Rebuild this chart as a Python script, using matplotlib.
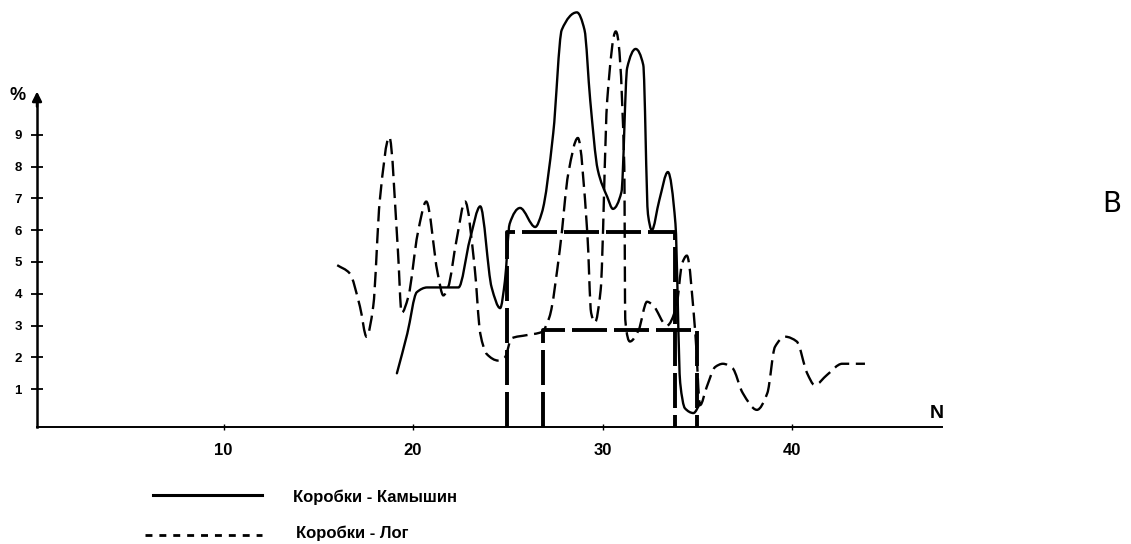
import matplotlib
matplotlib.use('Agg')
import matplotlib.pyplot as plt
import numpy as np
from matplotlib.path import Path
from matplotlib.patches import PathPatch
from matplotlib.lines import Line2D

plt.rcParams['font.family'] = ['Liberation Sans', 'DejaVu Sans']

# Коробки - Камышин (сплошная)
kam_n = [19.15, 19.7, 20.2, 20.75, 22.4, 23.0, 23.55, 24.15, 24.6, 24.85, 25.1,
         25.65, 26.45, 26.8, 27.4, 27.85, 28.65, 29.05, 29.35, 29.75, 30.25, 30.55,
         31.0, 31.3, 31.75, 32.15, 32.4, 32.6, 33.0, 33.45, 33.85, 34.1, 34.35,
         34.8, 35.15]
kam_v = [1.5, 2.75, 4.05, 4.2, 4.2, 5.7, 6.75, 4.2, 3.55, 4.4, 6.2,
         6.7, 6.1, 6.55, 9.05, 12.3, 12.85, 12.3, 10.1, 7.9, 7.05, 6.67,
         7.2, 11.1, 11.7, 11.2, 6.5, 6.0, 6.95, 7.83, 6.2, 1.2, 0.4,
         0.25, 0.55]

# Коробки - Лог (пунктир)
log_n = [16.0, 16.65, 17.2, 17.55, 17.9, 18.25, 18.75, 19.2, 19.4, 19.75, 20.25,
         20.7, 21.3, 21.6, 21.85, 22.3, 22.75, 23.25, 23.55, 23.9, 24.5,
         24.85, 25.2, 26.0, 26.8, 27.2, 27.75, 28.2, 28.7, 29.2, 29.4, 29.6,
         29.9, 30.25, 30.7, 31.15, 31.2, 31.45, 31.9, 32.35, 32.65, 33.4, 33.9,
         34.2, 34.45, 34.9, 35.15, 35.5, 35.95, 36.35, 36.85, 37.4, 38.15, 38.7,
         39.1, 39.65, 40.25, 40.8, 41.2, 41.85, 42.65, 43.2, 43.85]
log_v = [4.9, 4.65, 3.6, 2.65, 3.6, 6.95, 8.93, 5.4, 3.4, 3.9, 5.9,
         6.9, 4.65, 3.95, 4.2, 5.7, 6.9, 4.85, 2.75, 2.1, 1.9,
         2.0, 2.6, 2.7, 2.8, 3.27, 5.4, 7.8, 8.9, 5.9, 3.4, 3.1,
         4.1, 10.1, 12.25, 8.0, 3.2, 2.5, 2.85, 3.75, 3.65, 3.0, 3.6,
         4.95, 5.2, 2.75, 0.5, 1.07, 1.7, 1.8, 1.67, 0.88, 0.35, 0.88,
         2.33, 2.65, 2.5, 1.5, 1.13, 1.45, 1.8, 1.8, 1.8]

# ступенчатые (средние) линии
step_kam_n = [24.96, 24.96, 33.8, 33.8]
step_kam_v = [-0.2, 5.95, 5.95, -0.2]
step_log_n = [26.85, 26.85, 35.0, 35.0]
step_log_v = [-0.2, 2.85, 2.85, -0.2]

y_ticks = [1, 2, 3, 4, 5, 6, 7, 8, 9]
x_ticks = [10, 20, 30, 40]


def smooth(xs, ys):
    # гладкая монотонная (pchip) кривая через точки, как кубические Безье
    x = np.asarray(xs, float)
    y = np.asarray(ys, float)
    h = np.diff(x)
    d = np.diff(y) / h
    m = np.zeros_like(y)
    for k in range(1, len(x) - 1):
        if d[k - 1] * d[k] > 0:
            w1 = 2 * h[k] + h[k - 1]
            w2 = h[k] + 2 * h[k - 1]
            m[k] = (w1 + w2) / (w1 / d[k - 1] + w2 / d[k])
    m[0] = d[0]
    m[-1] = d[-1]
    verts = [(x[0], y[0])]
    codes = [Path.MOVETO]
    for i in range(len(x) - 1):
        verts += [(x[i] + h[i] / 3, y[i] + m[i] * h[i] / 3),
                  (x[i + 1] - h[i] / 3, y[i + 1] - m[i + 1] * h[i] / 3),
                  (x[i + 1], y[i + 1])]
        codes += [Path.CURVE4] * 3
    return Path(verts, codes)


fig = plt.figure(figsize=(11.31, 5.44), dpi=100)
ax = fig.add_axes([0, 0, 1, 1])
ax.set_xlim(-34 / 18.95, (1131 - 34) / 18.95)
ax.set_ylim((421 - 544) / 31.8, 421 / 31.8)

# оси
for s in ['top', 'right']:
    ax.spines[s].set_visible(False)
ax.spines['left'].set_position(('data', 0.16))
ax.spines['left'].set_bounds(-0.2, 10.0)
ax.spines['bottom'].set_position(('data', -0.2))
ax.spines['bottom'].set_bounds(0.16, 47.9)
ax.spines['left'].set_linewidth(1.8)
ax.spines['bottom'].set_linewidth(1.4)
ax.annotate('', xy=(0.16, 10.45), xytext=(0.16, 9.8),
            arrowprops=dict(arrowstyle='-|>', color='black', lw=1.8,
                            mutation_scale=14))

ax.set_yticks(y_ticks)
ax.set_yticklabels([str(t) for t in y_ticks], fontsize=9.5, fontweight='bold')
ax.tick_params(axis='y', direction='inout', length=8, width=1.3, pad=7)
ax.set_xticks(x_ticks)
ax.set_xticklabels([str(t) for t in x_ticks], fontsize=12, fontweight='bold')
ax.tick_params(axis='x', direction='inout', length=5, width=1.0, pad=9)

ax.text(-0.85, 10.25, '%', fontsize=13, fontweight='bold', ha='center', va='center')
ax.text(47.65, 0.25, 'N', fontsize=14, fontweight='bold', ha='center', va='center')
ax.text(56.9, 6.82, 'B', fontsize=20, family='DejaVu Sans', ha='center', va='center')

# кривые
ax.add_patch(PathPatch(smooth(kam_n, kam_v), fill=False, ec='black', lw=1.7,
                       capstyle='round', joinstyle='round'))
ax.add_patch(PathPatch(smooth(log_n, log_v), fill=False, ec='black', lw=1.7,
                       ls=(0, (6.5, 2.8))))

# ступеньки
ax.plot(step_kam_n, step_kam_v, color='black', lw=2.8, ls=(0, (9, 1.8)))
ax.plot(step_log_n, step_log_v, color='black', lw=2.8, ls=(0, (9, 1.8)))

# легенда
fig.add_artist(Line2D([153 / 1131, 262 / 1131], [1 - 495 / 544] * 2,
                      color='black', lw=2.2))
fig.add_artist(Line2D([145 / 1131, 262 / 1131], [1 - 535 / 544] * 2,
                      color='black', lw=2.0, ls=(0, (2.5, 2.5))))
fig.text(293 / 1131, 1 - 497 / 544, 'Коробки - Камышин', fontsize=12,
         fontweight='bold', va='center')
fig.text(296 / 1131, 1 - 533 / 544, 'Коробки - Лог', fontsize=12,
         fontweight='bold', va='center')

fig.savefig('out.png', dpi=100)
